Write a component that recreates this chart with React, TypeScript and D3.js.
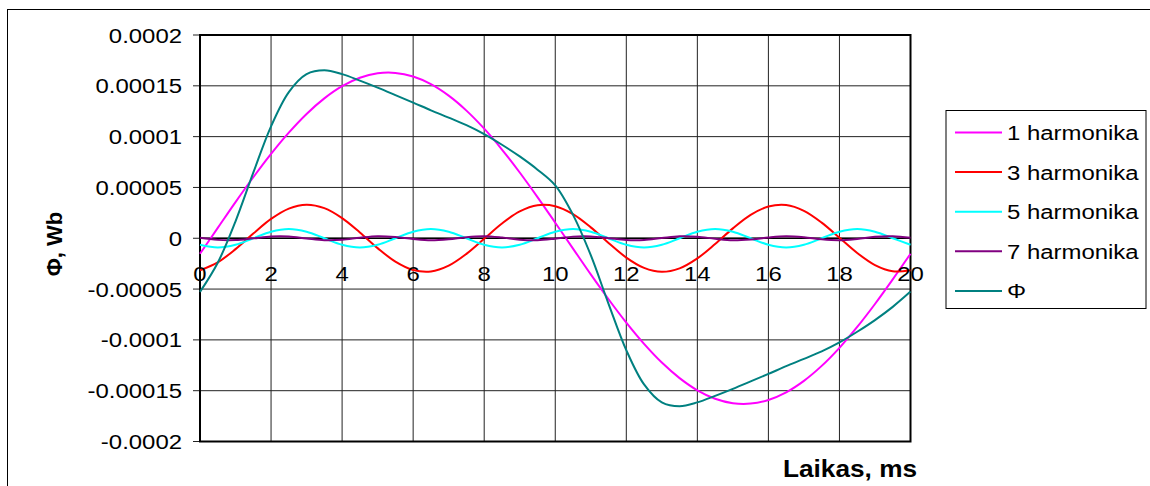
import React from "react";
import * as d3 from "d3";

// Time samples, ms
const timeMs = [
  0, 0.5, 1, 1.5, 2, 2.5, 3, 3.5, 4, 4.5, 5, 5.5, 6, 6.5, 7, 7.5, 8, 8.5, 9, 9.5, 10,
  10.5, 11, 11.5, 12, 12.5, 13, 13.5, 14, 14.5, 15, 15.5, 16, 16.5, 17, 17.5, 18, 18.5, 19, 19.5, 20,
];

// Flux values in units of 1e-5 Wb
const harm1 = [
  -1.53, 1.02, 3.56, 6.0, 8.3, 10.39, 12.23, 13.76, 14.96, 15.79, 16.23, 16.27, 15.91, 15.16, 14.03, 12.56, 10.78, 8.73, 6.47, 4.05, 1.53,
  -1.02, -3.56, -6.0, -8.3, -10.39, -12.23, -13.76, -14.96, -15.79, -16.23, -16.27, -15.91, -15.16, -14.03, -12.56, -10.78, -8.73, -6.47, -4.05, -1.53,
];
const harm3 = [
  -3.15, -2.37, -1.07, 0.46, 1.9, 2.92, 3.3, 2.96, 1.98, 0.57, -0.97, -2.3, -3.12, -3.27, -2.7, -1.54, -0.05, 1.45, 2.64, 3.25, 3.15,
  2.37, 1.07, -0.46, -1.9, -2.92, -3.3, -2.96, -1.98, -0.57, 0.97, 2.3, 3.12, 3.27, 2.7, 1.54, 0.05, -1.45, -2.64, -3.25, -3.15,
];
const harm5 = [
  -0.64, -0.9, -0.64, 0, 0.64, 0.9, 0.64, 0, -0.64, -0.9, -0.64, 0, 0.64, 0.9, 0.64, 0, -0.64, -0.9, -0.64, 0, 0.64,
  0.9, 0.64, 0, -0.64, -0.9, -0.64, 0, 0.64, 0.9, 0.64, 0, -0.64, -0.9, -0.64, 0, 0.64, 0.9, 0.64, 0, -0.64,
];
const harm7 = [
  0.04, -0.16, -0.18, -0.01, 0.17, 0.17, -0.02, -0.19, -0.15, 0.05, 0.2, 0.12, -0.08, -0.2, -0.1, 0.11, 0.2, 0.07, -0.14, -0.19, -0.04,
  0.16, 0.18, 0.01, -0.17, -0.17, 0.02, 0.19, 0.15, -0.05, -0.2, -0.12, 0.08, 0.2, 0.1, -0.11, -0.2, -0.07, 0.14, 0.19, 0.04,
];
const fluxTotal = [
  -5.28, -2.41, 1.67, 6.45, 11.01, 14.38, 16.15, 16.53, 16.15, 15.51, 14.82, 14.09, 13.35, 12.59, 11.87, 11.13, 10.25, 9.2, 8.05, 6.75, 5.2,
  2.3, -1.67, -6.45, -11.01, -14.38, -16.15, -16.53, -16.15, -15.51, -14.82, -14.09, -13.35, -12.59, -11.87, -11.13, -10.25, -9.2, -8.05, -6.75, -5.25,
];

const seriesNames = ["1 harmonika", "3 harmonika", "5 harmonika", "7 harmonika", "Φ"];
const seriesValues = [harm1, harm3, harm5, harm7, fluxTotal];
const seriesColors = ["#FF00FF", "#FF0000", "#00FFFF", "#800080", "#008080"];

const xTicks = [0, 2, 4, 6, 8, 10, 12, 14, 16, 18, 20];
const yTicks = [20, 15, 10, 5, 0, -5, -10, -15, -20];
const yTickLabels = ["0.0002", "0.00015", "0.0001", "0.00005", "0", "-0.00005", "-0.0001", "-0.00015", "-0.0002"];

const FONT = "Arial, 'Liberation Sans', sans-serif";
const SX = 1.14; // horizontal stretch of the chart lettering

function Label({ x, y, anchor, size, bold, children }: any) {
  return (
    <text
      transform={`translate(${x},${y}) scale(${SX},1)`}
      textAnchor={anchor}
      fontFamily={FONT}
      fontSize={size}
      fontWeight={bold ? "bold" : "normal"}
      fill="#000"
    >
      {children}
    </text>
  );
}

export default function App() {
  const W = 1150;
  const H = 486;
  const plot = { left: 200, right: 910.5, top: 35, bottom: 441.5 };

  const x = d3.scaleLinear().domain([0, 20]).range([plot.left, plot.right]);
  const y = d3.scaleLinear().domain([-20, 20]).range([plot.bottom, plot.top]);

  const line = d3
    .line<number>()
    .x((_, i) => x(timeMs[i]))
    .y((d) => y(d))
    .curve(d3.curveCatmullRom.alpha(0.5));

  const legend = { x: 946, y: 110.5, w: 200, h: 198, rowY0: 132.5, rowStep: 39.6 };

  return (
    <svg
      width={W}
      height={H}
      style={{ position: "absolute", left: 0, top: 0, background: "#fff" }}
    >
      {/* outer chart frame */}
      <rect x={7.5} y={9.5} width={W} height={H} fill="#fff" stroke="#000" strokeWidth={1} />

      {/* grid */}
      {xTicks.map((t) => (
        <line key={"gx" + t} x1={x(t)} x2={x(t)} y1={plot.top} y2={plot.bottom} stroke="#222" strokeWidth={1} />
      ))}
      {yTicks.map((v) => (
        <line key={"gy" + v} x1={plot.left - 7} x2={plot.right} y1={y(v)} y2={y(v)} stroke="#222" strokeWidth={1} />
      ))}
      {/* zero axis */}
      <line x1={plot.left} x2={plot.right} y1={y(0)} y2={y(0)} stroke="#000" strokeWidth={1.5} />

      {/* plot frame */}
      <rect
        x={plot.left}
        y={plot.top}
        width={plot.right - plot.left}
        height={plot.bottom - plot.top}
        fill="none"
        stroke="#000"
        strokeWidth={2}
      />

      {/* series */}
      {seriesValues.map((vals, i) => (
        <path key={seriesNames[i]} d={line(vals) || ""} fill="none" stroke={seriesColors[i]} strokeWidth={2} />
      ))}

      {/* y tick labels */}
      {yTicks.map((v, i) => (
        <Label key={"yl" + v} x={182} y={y(v) + 7.5} anchor="end" size={21}>
          {yTickLabels[i]}
        </Label>
      ))}

      {/* x tick labels along the zero line */}
      {xTicks.map((t) => (
        <Label key={"xl" + t} x={x(t)} y={281} anchor="middle" size={21}>
          {String(t)}
        </Label>
      ))}

      {/* axis titles */}
      <Label x={850} y={477} anchor="middle" size={23} bold>
        Laikas, ms
      </Label>
      <text
        transform={`translate(62,244) rotate(-90)`}
        textAnchor="middle"
        fontFamily={FONT}
        fontSize={22}
        fontWeight="bold"
      >
        Φ, Wb
      </text>

      {/* legend */}
      <rect x={legend.x} y={legend.y} width={legend.w} height={legend.h} fill="#fff" stroke="#000" strokeWidth={1} />
      {seriesNames.map((name, i) => {
        const ry = legend.rowY0 + i * legend.rowStep;
        return (
          <g key={"lg" + name}>
            <line x1={955} x2={1002} y1={ry} y2={ry} stroke={seriesColors[i]} strokeWidth={2} />
            <Label x={1007} y={ry + 7.5} anchor="start" size={21}>
              {name}
            </Label>
          </g>
        );
      })}
    </svg>
  );
}
